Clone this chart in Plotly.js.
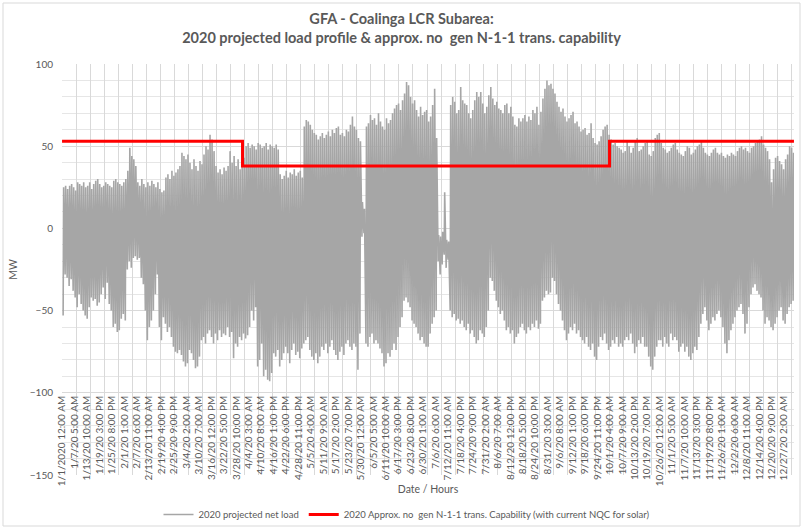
<!DOCTYPE html>
<html><head><meta charset="utf-8">
<script src="https://cdn.plot.ly/plotly-3.0.1.min.js"></script>
<style>html,body{margin:0;padding:0;background:#fff}#chart{width:803px;height:529px}</style>
</head><body><div id="chart"></div>
<script>
// Daily peak and trough of the 2020 projected net load (MW) (365-day calendar)
const dailyMax = [
25,26,24,26,27,25,23,28,27,26,28,25,26,28,24,27,29,30,27,25,26,28,27,26,25,29,30,28,27,26,28,
30,35,49,44,42,38,
28,26,30,27,25,28,26,29,27,25,28,24,
22,23,
31,33,30,35,32,34,36,38,
46,44,42,45,
40,36,42,38,35,41,39,
45,50,48,57,54,47,
38,34,36,33,37,35,38,
47,
40,44,38,42,36,40,43,
50,52,49,51,50,48,52,51,49,50,52,48,51,50,49,51,48,
33,30,32,35,31,34,33,36,32,34,35,31,
62,66,65,63,60,58,
57,54,56,58,55,57,59,56,60,58,61,62,57,58,56,60,59,63,68,62,60,55,53,
16,12,
62,64,69,66,67,63,70,65,62,60,67,64,66,70,73,75,76,72,78,82,89,87,80,76,78,72,68,74,69,71,72,65,68,75,85,55,
-4,-5,-2,22,-7,-8,
75,80,77,70,72,86,78,76,75,70,67,72,78,83,80,83,76,70,74,81,86,79,75,77,73,72,70,75,76,70,74,68,63,62,67,65,
67,69,65,68,66,72,70,74,63,71,79,85,90,87,88,85,82,77,74,71,73,68,65,67,69,71,64,65,62,59,60,61,57,58,64,55,52,51,53,56,60,62,63,57,54,
51,52,50,49,48,46,47,53,50,46,49,53,55,47,48,50,52,53,45,44,47,55,57,58,52,49,48,46,47,49,51,52,48,46,45,44,47,50,49,45,
46,48,50,51,53,49,46,45,44,46,48,49,46,45,46,44,43,45,44,46,45,44,47,49,50,48,49,47,46,49,50,52,53,54,56,51,49,47,42,28,
36,43,44,41,39,36,42,45,50,49,46
];
const dailyMin = [
-53,-28,-30,-35,-31,-38,-42,-48,-40,-46,-50,-53,-55,-48,-42,-44,-43,-47,-45,-40,-36,-43,-33,-46,-50,-60,-58,-63,-62,-55,-52,-56,
-25,-20,-24,-18,-17,-19,-18,-30,-34,-50,-68,-60,-56,-50,-40,-28,-60,-68,-54,-58,-63,-60,-66,-72,-75,-76,-74,-77,-81,-84,
-82,-74,-76,-80,-85,-84,-78,-68,-66,-70,-64,-62,-66,-70,
-64,-68,-62,-66,-64,-65,-60,-66,-63,-79,-70,-72,-66,-68,-64,-67,-65,-60,-50,-56,
-48,-84,-80,-70,-90,-86,-92,-93,-88,-76,-78,-74,-84,-80,-76,-72,-76,-82,-74,-70,
-77,-75,-79,-73,-70,-68,-66,-74,-78,-80,-76,-82,-78,-72,-74,-70,-76,-72,-68,-74,
-77,-80,-75,-72,-77,-70,-68,-72,-74,-70,-72,-86,-64,-5,-3,
-70,-72,-66,-64,-70,-68,-70,-73,-76,-84,-82,-76,-78,-74,-70,-74,-66,-60,-54,-44,-42,-45,-48,-56,-58,-60,-64,-68,-66,-70,-72,-72,-64,-58,-54,-50,
-20,-28,-22,-16,-24,-19,
-50,-54,-52,-56,-55,-58,-56,-60,-62,-58,-64,-62,-66,-70,-68,-62,-64,-66,-60,-50,-30,-32,-38,-44,-48,-52,-50,-56,-62,-60,-64,-62,-70,-66,-64,-60,
-58,-62,-64,-60,-62,-58,-60,-56,-61,-58,-44,-42,-38,-40,-39,-30,-32,-40,-46,-50,-56,-62,-68,-64,-60,-62,-58,-64,-62,-66,-68,-70,-66,-72,-74,-70,-78,-80,-72,-66,-68,-64,-70,-74,-72,
-68,-70,-66,-72,-70,-72,-68,-66,-68,-64,-70,-76,-72,-68,-70,-66,-72,-72,-78,-84,-86,-78,-72,-68,-68,-72,-66,-70,-72,-64,-68,-66,-68,-75,-72,-70,
-75,-72,-78,-80,-76,-72,-74,-66,-58,-52,-48,-56,-62,-58,-54,-56,-52,-50,-54,-60,-70,-76,-68,-62,-58,-54,-50,-48,-46,-52,
-64,-58,-48,-40,-36,-34,-38,-40,-42,-50,-58,-54,-56,-60,-62,-58,-54,-50,-48,-56,-58,-52,-48,-46,-44
];
// Approx. no-gen N-1-1 transmission capability (MW), step changes by hour of year
const capStepHours = [0, 2160, 6552, 8759];
const capValues = [53, 38, 53, 53];

const tickLabels = ["1/1/2020 12:00 AM","1/7/20 5:00 AM","1/13/20 10:00 AM","1/19/20 3:00 PM","1/25/20 8:00 PM",
"2/1/20 1:00 AM","2/7/20 6:00 AM","2/13/20 11:00 AM","2/19/20 4:00 PM","2/25/20 9:00 PM",
"3/4/20 2:00 AM","3/10/20 7:00 AM","3/16/20 12:00 PM","3/22/20 5:00 PM","3/28/20 10:00 PM",
"4/4/20 3:00 AM","4/10/20 8:00 AM","4/16/20 1:00 PM","4/22/20 6:00 PM","4/28/20 11:00 PM",
"5/5/20 4:00 AM","5/11/20 9:00 AM","5/17/20 2:00 PM","5/23/20 7:00 PM","5/30/20 12:00 AM",
"6/5/20 5:00 AM","6/11/20 10:00 AM","6/17/20 3:00 PM","6/23/20 8:00 PM","6/30/20 1:00 AM",
"7/6/20 6:00 AM","7/12/20 11:00 AM","7/18/20 4:00 PM","7/24/20 9:00 PM","7/31/20 2:00 AM",
"8/6/20 7:00 AM","8/12/20 12:00 PM","8/18/20 5:00 PM","8/24/20 10:00 PM","8/31/20 3:00 AM",
"9/6/20 8:00 AM","9/12/20 1:00 PM","9/18/20 6:00 PM","9/24/20 11:00 PM","10/1/20 4:00 AM",
"10/7/20 9:00 AM","10/13/20 2:00 PM","10/19/20 7:00 PM","10/26/20 12:00 AM","11/1/20 5:00 AM",
"11/7/20 10:00 AM","11/13/20 3:00 PM","11/19/20 8:00 PM","11/26/20 1:00 AM","12/2/20 6:00 AM",
"12/8/20 11:00 AM","12/14/20 4:00 PM","12/20/20 9:00 PM","12/27/20 2:00 AM"];

const HOURS = 8760, LABEL_STEP = 149, GRID_STEP = 168;
const labelVals = tickLabels.map((_, k) => k * LABEL_STEP);
const gridVals = [];
for (let h = 0; h < HOURS; h += GRID_STEP) gridVals.push(h - 0.5);

const lx = [], ly = [];
for (let d = 0; d < dailyMax.length; d++) {
  lx.push(d * 24 + 13); ly.push(dailyMin[d]);
  lx.push(d * 24 + 19); ly.push(dailyMax[d]);
}

const FONT = 'Lato, "Open Sans", sans-serif';
const GRID = '#d9d9d9';
const TXT = '#595959';

const traces = [
  {type: 'scatter', mode: 'lines', x: lx, y: ly, name: '2020 projected net load',
   line: {color: '#a6a6a6', width: 1.6}, hoverinfo: 'skip'},
  {type: 'scatter', mode: 'lines', x: capStepHours, y: capValues, xaxis: 'x2',
   name: '2020 Approx. no\u00a0 gen N-1-1 trans. Capability (with current NQC for solar)',
   line: {color: '#ff0000', width: 3, shape: 'hv'}, hoverinfo: 'skip'}
];

const L = 62, T = 64, W = 732, H = 411;
const px2x = p => (p - L) / W, py2y = p => (T + H - p) / H;

const layout = {
  width: 803, height: 529,
  margin: {l: L, r: 803 - L - W, t: T, b: 529 - T - H, pad: 0},
  paper_bgcolor: '#fff', plot_bgcolor: '#fff',
  font: {family: FONT, color: TXT, size: 10},
  title: {text: 'GFA - Coalinga LCR Subarea:<br>2020 projected load profile & approx. no\u00a0 gen N-1-1 trans. capability',
          font: {family: FONT, size: 14.5, color: TXT, weight: 'bold'},
          x: 0.5, xref: 'container', xanchor: 'center', y: 1 - 24 / 529, yref: 'container', yanchor: 'top'},
  showlegend: true,
  legend: {orientation: 'h', x: px2x(407), xanchor: 'center', yref: 'container', y: (529 - 529) / 529, yanchor: 'bottom',
           font: {size: 9.5, color: TXT}, itemwidth: 30, bgcolor: 'rgba(0,0,0,0)', traceorder: 'normal'},
  xaxis: {range: [-0.5, HOURS - 0.5], tickmode: 'array', tickvals: gridVals, showticklabels: false,
          showgrid: true, gridcolor: GRID, gridwidth: 1, zeroline: false, showline: false, ticks: '',
          automargin: false, fixedrange: true},
  xaxis2: {overlaying: 'x', anchor: 'free', position: 0.2, side: 'bottom', range: [-0.5, HOURS - 0.5],
           tickmode: 'array', tickvals: labelVals, ticktext: tickLabels, tickangle: -90,
           tickfont: {size: 10, color: TXT}, showgrid: false, zeroline: false, showline: false, ticks: '',
           automargin: false, fixedrange: true,
           title: {text: 'Date / Hours', font: {size: 10.5, color: TXT}, standoff: 0}},
  yaxis: {range: [-150, 100], tickmode: 'linear', tick0: 0, dtick: 50, showgrid: true, gridcolor: GRID,
          zeroline: false, showline: false, ticks: '', ticklabelstandoff: 8, tickfont: {size: 10, color: TXT},
          automargin: false, fixedrange: true,
          minor: {dtick: 10, showgrid: true, gridcolor: '#e6e6e6', ticks: ''},
          title: {text: 'MW', font: {size: 10.5, color: TXT}, standoff: 10}},
  shapes: [{type: 'rect', xref: 'paper', yref: 'paper', layer: 'below',
            x0: px2x(3), x1: px2x(800), y0: py2y(526), y1: py2y(3),
            line: {color: GRID, width: 1}}]
};

Plotly.newPlot('chart', traces, layout, {displayModeBar: false, staticPlot: true});
</script>
</body></html>
